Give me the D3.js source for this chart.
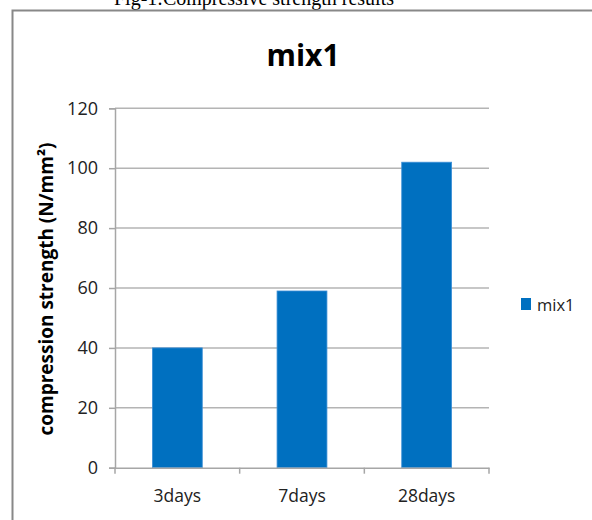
<!DOCTYPE html>
<html>
<head>
<meta charset="utf-8">
<script src="https://cdn.jsdelivr.net/npm/d3@7"></script>
<style>
  html, body { margin: 0; padding: 0; background: #fff; overflow: hidden; }
  svg { display: block; }
</style>
</head>
<body>
<svg id="chart" width="592" height="520"></svg>
<script>
const categories = ["3days", "7days", "28days"];
const seriesName = "mix1";
const values = [40, 59, 102];
const yTicks = [0, 20, 40, 60, 80, 100, 120];
const caption = "Fig-1:Compressive strength results";
const yTitle = "compression strength (N/mm²)";

const svg = d3.select("#chart");
const sans = "'Open Sans', 'Noto Sans', sans-serif";
const barColor = "#0070C0";
const gridColor = "#b4b4b4";
const axisColor = "#a6a6a6";

// caption (clipped at top, as in the reference)
svg.append("text")
  .attr("x", 254).attr("y", 5)
  .attr("text-anchor", "middle")
  .attr("font-family", "'Liberation Serif', 'Times New Roman', serif")
  .attr("font-size", 20)
  .attr("fill", "#000")
  .text(caption);

// chart frame (extends past the window)
svg.append("rect")
  .attr("x", 12.5).attr("y", 10.5)
  .attr("width", 700).attr("height", 700)
  .attr("fill", "none")
  .attr("stroke", "#888")
  .attr("stroke-width", 2);

const x = d3.scaleBand()
  .domain(categories)
  .range([115, 489])
  .paddingInner(0.6)
  .paddingOuter(0.3);

const y = d3.scaleLinear()
  .domain([0, 120])
  .range([467.7, 108.3]);

// gridlines
svg.append("g")
  .selectAll("line")
  .data(yTicks.filter(d => d > 0))
  .join("line")
  .attr("x1", 115).attr("x2", 489)
  .attr("y1", d => y(d)).attr("y2", d => y(d))
  .attr("stroke", gridColor)
  .attr("stroke-width", 1.5);

// bars
svg.append("g")
  .selectAll("rect")
  .data(values)
  .join("rect")
  .attr("x", (d, i) => x(categories[i]))
  .attr("y", d => y(d))
  .attr("width", x.bandwidth())
  .attr("height", d => y(0) - y(d))
  .attr("fill", barColor)
  .attr("stroke", "#3d8fd6")
  .attr("stroke-width", 0.8);

// y axis
const yAxis = svg.append("g")
  .attr("transform", "translate(115,0)")
  .call(d3.axisLeft(y).tickValues(yTicks).tickSize(6).tickPadding(11));
yAxis.select(".domain").attr("stroke", axisColor).attr("stroke-width", 1.5);
yAxis.selectAll(".tick line").attr("stroke", axisColor).attr("stroke-width", 1.5);
yAxis.selectAll(".tick text")
  .attr("font-family", sans).attr("font-size", 18).attr("fill", "#222");

// x axis
const xAxis = svg.append("g")
  .attr("transform", `translate(0,${y(0)})`)
  .call(d3.axisBottom(x).tickSize(0).tickPadding(22));
xAxis.select(".domain").attr("stroke", axisColor).attr("stroke-width", 1.5);
xAxis.selectAll(".tick text")
  .attr("font-family", sans).attr("font-size", 17.5).attr("fill", "#222");
// category boundary ticks
const bounds = categories.map((c, i) => 115 + i * x.step());
bounds.push(489);
svg.append("g")
  .selectAll("line")
  .data(bounds)
  .join("line")
  .attr("x1", d => d).attr("x2", d => d)
  .attr("y1", y(0)).attr("y2", y(0) + 6)
  .attr("stroke", axisColor)
  .attr("stroke-width", 1.5);

// title
svg.append("text")
  .attr("x", 303).attr("y", 66)
  .attr("text-anchor", "middle")
  .attr("font-family", sans)
  .attr("font-weight", "bold")
  .attr("font-size", 30)
  .attr("fill", "#000")
  .text(seriesName);

// y axis title
svg.append("text")
  .attr("transform", "translate(53,289) rotate(-90)")
  .attr("text-anchor", "middle")
  .attr("font-family", sans)
  .attr("font-weight", "bold")
  .attr("font-size", 19)
  .attr("fill", "#000")
  .text(yTitle);

// legend
const lg = svg.append("g").attr("transform", "translate(521,298)");
lg.append("rect").attr("width", 10).attr("height", 12).attr("fill", barColor);
lg.append("text")
  .attr("x", 16).attr("y", 12.5)
  .attr("font-family", sans).attr("font-size", 16.5).attr("fill", "#222")
  .text(seriesName);
</script>
</body>
</html>
